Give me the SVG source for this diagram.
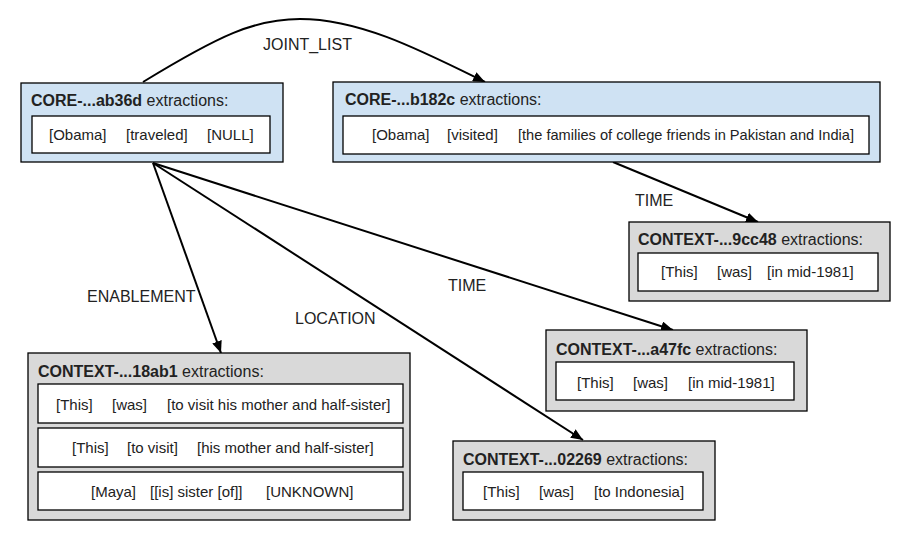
<svg xmlns="http://www.w3.org/2000/svg" width="908" height="537" viewBox="0 0 908 537">
<defs>
<marker id="arr" viewBox="0 0 12 10" refX="12" refY="5" markerWidth="12" markerHeight="10" markerUnits="userSpaceOnUse" orient="auto">
<path d="M0,0 L12,5 L0,10 z" fill="#000"/>
</marker>
</defs>
<style>
text{font-family:"Liberation Sans",Arial,sans-serif;font-size:15px;fill:#222}
.t{font-size:16px}
.core{fill:#cfe2f3;stroke:#000;stroke-width:1.3}
.ctx{fill:#d9d9d9;stroke:#000;stroke-width:1.3}
.inner{fill:#fff;stroke:#000;stroke-width:1.3}
.b{font-weight:bold}
.edge{fill:none;stroke:#000;stroke-width:2;marker-end:url(#arr)}
.lbl{font-size:16px}
</style>
<rect width="908" height="537" fill="#fff"/>
<g id="connectors">
<path class="edge" d="M143,82 C220,35 255,19 300,19 C360,19 420,50 485,82"/>
<path class="edge" d="M613,162 L758,222"/>
<path class="edge" d="M153,163 L221,353"/>
<path class="edge" d="M153,163 L583,440"/>
<path class="edge" d="M153,163 L673,330"/>
<text class="lbl" x="263" y="50">JOINT_LIST</text>
<text class="lbl" x="635" y="206">TIME</text>
<text class="lbl" x="87" y="302">ENABLEMENT</text>
<text class="lbl" x="295" y="324">LOCATION</text>
<text class="lbl" x="448" y="291">TIME</text>
</g>
<g id="core-ab36d">
<rect class="core" x="21" y="83" width="262" height="79"/>
<text class="t" x="31" y="106"><tspan class="b">CORE-...ab36d</tspan> extractions:</text>
<rect class="inner" x="32" y="116" width="238" height="37"/>
<text x="49" y="140">[Obama]</text>
<text x="126" y="140">[traveled]</text>
<text x="207" y="140">[NULL]</text>
</g>
<g id="core-b182c">
<rect class="core" x="333" y="82" width="547" height="80"/>
<text class="t" x="345" y="105"><tspan class="b">CORE-...b182c</tspan> extractions:</text>
<rect class="inner" x="343" y="116" width="526" height="38"/>
<text x="372" y="140">[Obama]</text>
<text x="447" y="140">[visited]</text>
<text x="518" y="140" textLength="336" lengthAdjust="spacingAndGlyphs">[the families of college friends in Pakistan and India]</text>
</g>
<g id="context-9cc48">
<rect class="ctx" x="629" y="222" width="261" height="79"/>
<text class="t" x="638" y="245"><tspan class="b">CONTEXT-...9cc48</tspan> extractions:</text>
<rect class="inner" x="638" y="253" width="240" height="38"/>
<text x="661" y="277">[This]</text>
<text x="717" y="277">[was]</text>
<text x="767" y="277">[in mid-1981]</text>
</g>
<g id="context-18ab1">
<rect class="ctx" x="28" y="353" width="382" height="167"/>
<text class="t" x="38" y="377"><tspan class="b">CONTEXT-...18ab1</tspan> extractions:</text>
<rect class="inner" x="38" y="384" width="365" height="39"/>
<text x="56" y="410">[This]</text>
<text x="112" y="410">[was]</text>
<text x="167" y="410">[to visit his mother and half-sister]</text>
<rect class="inner" x="38" y="428" width="365" height="39"/>
<text x="72" y="453">[This]</text>
<text x="127" y="453">[to visit]</text>
<text x="197" y="453">[his mother and half-sister]</text>
<rect class="inner" x="38" y="472" width="365" height="38"/>
<text x="91" y="497">[Maya]</text>
<text x="150" y="497">[[is] sister [of]]</text>
<text x="266" y="497">[UNKNOWN]</text>
</g>
<g id="context-a47fc">
<rect class="ctx" x="546" y="330" width="261" height="81"/>
<text class="t" x="556" y="355"><tspan class="b">CONTEXT-...a47fc</tspan> extractions:</text>
<rect class="inner" x="556" y="362" width="238" height="38"/>
<text x="577" y="388">[This]</text>
<text x="633" y="388">[was]</text>
<text x="688" y="388">[in mid-1981]</text>
</g>
<g id="context-02269">
<rect class="ctx" x="453" y="441" width="262" height="79"/>
<text class="t" x="463" y="465"><tspan class="b">CONTEXT-...02269</tspan> extractions:</text>
<rect class="inner" x="463" y="472" width="240" height="38"/>
<text x="483" y="497">[This]</text>
<text x="539" y="497">[was]</text>
<text x="594" y="497">[to Indonesia]</text>
</g>
</svg>
